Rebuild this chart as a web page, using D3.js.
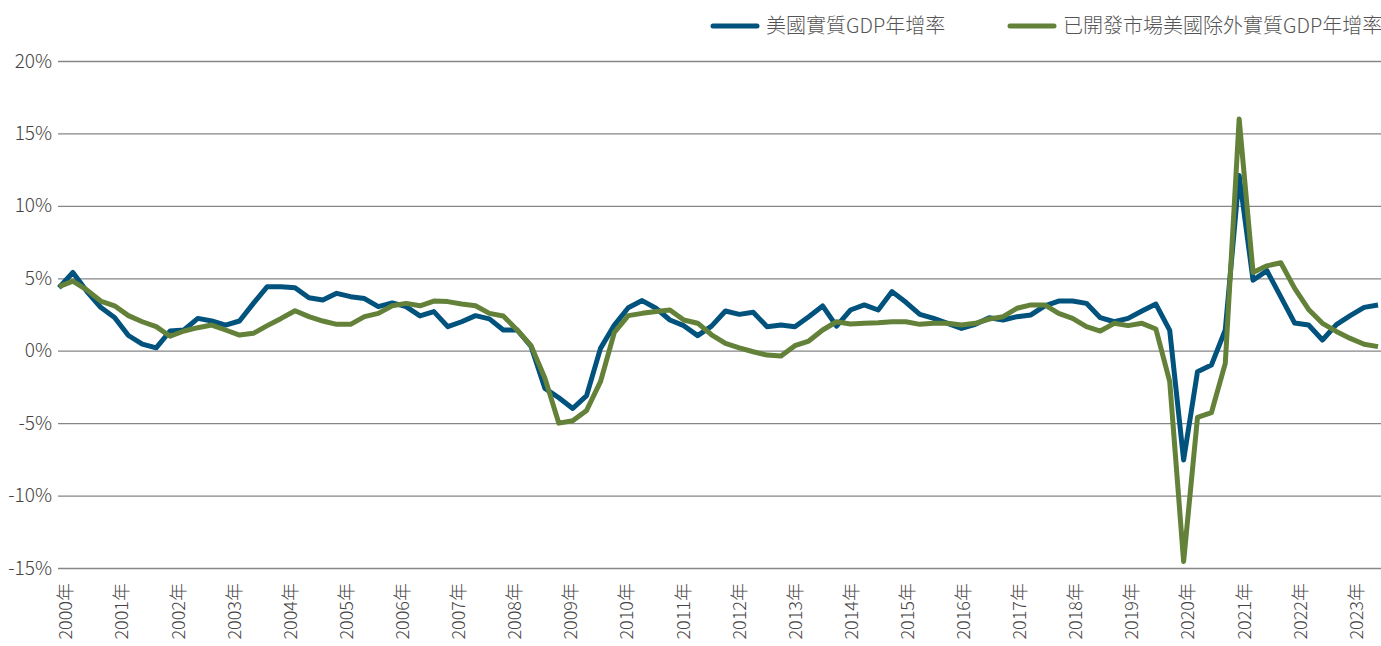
<!DOCTYPE html>
<html>
<head>
<meta charset="utf-8">
<script src="https://cdn.jsdelivr.net/npm/d3@7"></script>
<style>
  html, body { margin: 0; padding: 0; background: #fff; }
  svg text { font-family: "Noto Sans CJK TC", "Noto Sans", sans-serif; font-weight: 300; }
</style>
</head>
<body>
<div id="graph"></div>
<script>
// Years covered (quarterly data, 2000 Q1 - 2023 Q4)
const years = [2000, 2001, 2002, 2003, 2004, 2005, 2006, 2007, 2008, 2009, 2010, 2011,
               2012, 2013, 2014, 2015, 2016, 2017, 2018, 2019, 2020, 2021, 2022, 2023];

// US real GDP growth, year over year (%)
const usGrowth = [
    4.35, 5.4, 4.1, 3.0, 2.3, 1.05, 0.45, 0.2,
    1.36, 1.43, 2.23, 2.05, 1.77, 2.05, 3.27, 4.42,
    4.42, 4.35, 3.66, 3.5, 3.96, 3.73, 3.6, 3.04,
    3.3, 3.04, 2.4, 2.7, 1.66, 2.0, 2.42, 2.2,
    1.43, 1.43, 0.3, -2.6, -3.25, -3.99, -3.1, 0.16,
    1.77, 2.97, 3.46, 2.93, 2.12, 1.73, 1.04, 1.7,
    2.74, 2.51, 2.65, 1.66, 1.77, 1.66, 2.35, 3.09,
    1.7, 2.81, 3.16, 2.81, 4.08, 3.34, 2.51, 2.23,
    1.89, 1.54, 1.82, 2.28, 2.12, 2.35, 2.47, 3.1,
    3.43, 3.43, 3.27, 2.28, 2.0, 2.23, 2.74, 3.22,
    1.4, -7.54, -1.45, -0.99, 1.43, 12.1, 4.87, 5.52,
    3.72, 1.91, 1.77, 0.74, 1.8, 2.42, 2.99, 3.15
];

// Developed markets ex-US real GDP growth, year over year (%)
const dmExUsGrowth = [
    4.42, 4.8, 4.2, 3.43, 3.1, 2.42, 2.0, 1.66,
    1.0, 1.36, 1.59, 1.77, 1.43, 1.08, 1.2, 1.73,
    2.23, 2.76, 2.35, 2.05, 1.82, 1.82, 2.35, 2.58,
    3.1, 3.27, 3.1, 3.43, 3.39, 3.23, 3.1, 2.58,
    2.4, 1.43, 0.35, -1.9, -5.0, -4.84, -4.12, -2.14,
    1.27, 2.42, 2.58, 2.7, 2.81, 2.12, 1.9, 1.1,
    0.5, 0.2, -0.07, -0.3, -0.37, 0.35, 0.67, 1.43,
    2.0, 1.84, 1.89, 1.93, 2.0, 2.0, 1.82, 1.89,
    1.89, 1.77, 1.89, 2.19, 2.35, 2.93, 3.16, 3.16,
    2.58, 2.23, 1.66, 1.36, 1.89, 1.73, 1.89, 1.5,
    -2.14, -14.55, -4.6, -4.28, -0.87, 16.0, 5.4, 5.86,
    6.07, 4.3, 2.85, 1.89, 1.33, 0.85, 0.45, 0.28
];

// Y axis ticks (%)
const yTicks = [-15, -10, -5, 0, 5, 10, 15, 20];

// Legend entries
const seriesNames = ["美國實質GDP年增率", "已開發市場美國除外實質GDP年增率"];
const seriesColors = ["#01527c", "#638139"];

// quarter categories built from the years
const quarters = [];
years.forEach(yr => {
    ["Q1", "Q2", "Q3", "Q4"].forEach(q => quarters.push(yr + q));
});

// Graph constants
const w = 1381;
const h = 646;
const plotLeft = 58;
const plotRight = 1381;
const plotTop = 61;
const plotBottom = 568;

const svg = d3.select("#graph")
              .append("svg")
              .attr("width", w)
              .attr("height", h);

// scales
const xScale = d3.scalePoint()
                 .domain(quarters)
                 .range([59, 1378]);
const yScale = d3.scaleLinear()
                 .domain([-15, 20])
                 .range([plotBottom, plotTop]);
// year labels are spaced a little wider than the quarters
const yearScale = d3.scaleLinear()
                    .domain([2000, 2023])
                    .range([65.5, 1356]);

// y axis with grid lines
const yAxis = svg.append("g")
                 .attr("transform", `translate(${plotLeft},0)`)
                 .call(d3.axisLeft(yScale)
                         .tickValues(yTicks)
                         .tickSize(-(plotRight - plotLeft))
                         .tickPadding(6)
                         .tickFormat(d => d + "%"));
yAxis.select(".domain").remove();
yAxis.selectAll("line")
     .attr("stroke", "#868686")
     .attr("stroke-width", 1.3);
yAxis.selectAll("text")
     .attr("fill", "#444")
     .style("font-size", "19px");

// x axis, labels rotated
const xAxis = svg.append("g")
                 .attr("transform", `translate(0,${plotBottom})`)
                 .call(d3.axisBottom(yearScale)
                         .tickValues(years)
                         .tickSize(0)
                         .tickFormat(d => d + "年"));
xAxis.select(".domain").remove();
xAxis.selectAll("text")
     .attr("transform", "rotate(-90)")
     .attr("text-anchor", "end")
     .attr("x", -15)
     .attr("y", 0)
     .attr("dy", "0.35em")
     .attr("fill", "#444")
     .style("font-size", "18px");

// lines
const line = d3.line()
               .x((d, i) => xScale(quarters[i]))
               .y(d => yScale(d));

[usGrowth, dmExUsGrowth].forEach((series, k) => {
    svg.append("path")
       .datum(series)
       .attr("fill", "none")
       .attr("stroke", seriesColors[k])
       .attr("stroke-width", 5)
       .attr("stroke-linejoin", "round")
       .attr("d", line);
});

// legend
const legendX = [713, 1010];
const legend = svg.append("g");
seriesNames.forEach((name, k) => {
    legend.append("line")
          .attr("x1", legendX[k])
          .attr("x2", legendX[k] + 44)
          .attr("y1", 26)
          .attr("y2", 26)
          .attr("stroke", seriesColors[k])
          .attr("stroke-width", 5)
          .attr("stroke-linecap", "round");
    legend.append("text")
          .attr("x", legendX[k] + 53)
          .attr("y", 26)
          .attr("dy", "0.35em")
          .attr("fill", "#555")
          .style("font-size", "20px")
          .text(name);
});
</script>
</body>
</html>
